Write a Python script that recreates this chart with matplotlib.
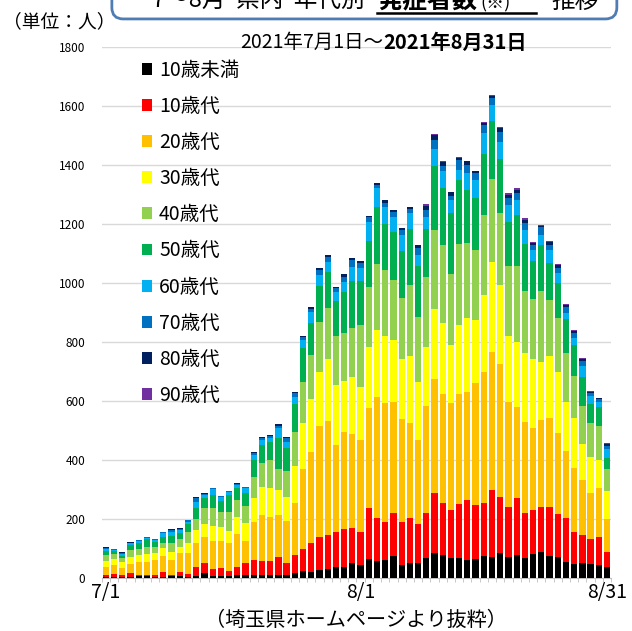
import numpy as np
import matplotlib
matplotlib.use("Agg")
import matplotlib.pyplot as plt
from matplotlib.patches import FancyBboxPatch
from matplotlib.lines import Line2D

plt.rcParams['font.family'] = ['Noto Sans CJK JP', 'DejaVu Sans']

# daily cases by age group, 2021/7/1 - 8/31
u10 = [4, 5, 5, 5, 7, 7, 5, 5, 7, 7, 5, 7, 16, 7, 7, 7, 10, 10, 10, 10, 10, 10, 10, 18, 25, 20,
       27, 29, 36, 36, 50, 44, 64, 58, 61, 75, 44, 50, 50, 67, 86, 78, 67, 69, 61, 64, 75, 72, 86,
       70, 78, 69, 81, 88, 75, 72, 54, 47, 50, 46, 44, 38]
a10 = [7, 10, 5, 12, 3, 3, 5, 16, 4, 14, 9, 31, 34, 24, 28, 18, 26, 40, 51, 48, 48, 62, 42, 60, 72, 97,
       111, 116, 119, 129, 118, 111, 172, 144, 128, 144, 145, 152, 132, 152, 203, 175, 164, 181, 203, 183, 178, 226, 187,
       172, 192, 150, 150, 154, 167, 144, 148, 110, 96, 86, 96, 51]
a20 = [27, 28, 23, 29, 45, 45, 51, 54, 50, 63, 70, 80, 90, 96, 90, 93, 113, 75, 128, 156, 150, 142, 142, 177, 272, 309,
       377, 387, 296, 331, 320, 313, 339, 410, 403, 379, 349, 325, 286, 364, 384, 371, 361, 374, 368, 413, 446, 469, 452,
       354, 311, 311, 277, 294, 299, 277, 230, 217, 186, 157, 164, 110]
a30 = [21, 21, 20, 24, 22, 26, 23, 26, 28, 22, 36, 45, 43, 49, 47, 42, 59, 60, 81, 96, 96, 84, 82, 125, 158, 181,
       184, 212, 203, 172, 194, 181, 209, 230, 228, 209, 204, 226, 198, 201, 239, 242, 198, 234, 248, 215, 260, 305, 268,
       226, 220, 234, 235, 197, 213, 204, 164, 167, 122, 122, 96, 97]
a40 = [18, 17, 14, 25, 22, 25, 22, 19, 29, 26, 37, 36, 53, 60, 53, 65, 56, 60, 71, 81, 96, 70, 87, 116, 139, 149,
       168, 170, 166, 164, 164, 209, 204, 222, 224, 203, 206, 240, 220, 235, 268, 263, 241, 273, 254, 237, 271, 279, 243,
       237, 258, 209, 203, 241, 188, 183, 168, 145, 129, 113, 115, 72]
a50 = [16, 11, 8, 16, 19, 25, 15, 20, 24, 19, 26, 39, 34, 45, 37, 56, 40, 42, 59, 60, 62, 105, 77, 94, 115, 110,
       123, 124, 118, 137, 162, 150, 154, 195, 155, 164, 159, 189, 172, 163, 215, 192, 205, 218, 181, 175, 209, 199, 183,
       149, 171, 160, 130, 155, 125, 121, 114, 104, 100, 66, 64, 38]
a60 = [6, 4, 6, 7, 9, 5, 8, 11, 15, 12, 8, 21, 11, 20, 11, 9, 11, 17, 17, 17, 14, 34, 22, 25, 26, 35,
       37, 34, 33, 36, 47, 42, 66, 62, 60, 51, 56, 54, 37, 43, 58, 57, 45, 34, 59, 62, 68, 53, 60,
       57, 51, 47, 36, 34, 45, 34, 22, 22, 36, 27, 17, 30]
a70 = [4, 1, 5, 2, 2, 2, 3, 5, 7, 4, 5, 11, 5, 4, 4, 4, 5, 5, 8, 5, 5, 8, 11, 11, 9, 11,
       17, 17, 11, 17, 23, 19, 15, 11, 13, 15, 15, 14, 23, 23, 32, 19, 14, 34, 26, 23, 29, 23, 34,
       23, 25, 23, 17, 26, 17, 17, 17, 17, 15, 9, 10, 11]
a80 = [1, 1, 1, 1, 1, 1, 1, 1, 1, 1, 1, 3, 1, 1, 1, 1, 1, 1, 3, 4, 4, 6, 6, 6, 5, 6,
       8, 6, 6, 7, 8, 7, 5, 6, 8, 8, 7, 7, 11, 14, 16, 12, 12, 8, 12, 7, 7, 8, 13,
       11, 9, 11, 8, 4, 9, 9, 9, 8, 8, 5, 3, 6]
a90 = [0, 0, 0, 0, 0, 0, 0, 0, 0, 0, 0, 0, 0, 0, 0, 0, 0, 0, 0, 0, 0, 0, 0, 0, 0, 0,
       0, 0, 0, 0, 0, 0, 0, 0, 0, 0, 0, 0, 0, 5, 5, 3, 3, 3, 3, 2, 2, 3, 4,
       5, 6, 5, 3, 4, 4, 3, 2, 4, 3, 2, 2, 4]

groups = ['10歳未満', '10歳代', '20歳代', '30歳代', '40歳代',
          '50歳代', '60歳代', '70歳代', '80歳代', '90歳代']
series = [u10, a10, a20, a30, a40, a50, a60, a70, a80, a90]
colors = ['#000000', '#FF0000', '#FFC000', '#FFFF00', '#92D050',
          '#00B050', '#00B0F0', '#0070C0', '#002060', '#7030A0']

tick_pos = [0, 31, 61]
tick_labels = ['7/1', '8/1', '8/31']

fig = plt.figure(figsize=(6.32, 6.31), dpi=100)
ax = fig.add_axes([0.161, 0.084, 0.806, 0.8415])

x = np.arange(len(u10))
bottom = np.zeros(len(u10))
for vals, name, c in zip(series, groups, colors):
    ax.bar(x, vals, bottom=bottom, width=0.76, color=c, label=name, zorder=3)
    bottom += np.array(vals)

ax.set_xlim(-0.5, len(u10) - 0.5)
ax.set_ylim(0, 1800)
ax.set_yticks(range(0, 1801, 200))
ax.tick_params(axis='y', length=0, labelsize=8.5, pad=12)
ax.grid(axis='y', color='#D9D9D9', linewidth=1, zorder=0)
ax.set_xticks(tick_pos)
ax.set_xticklabels(tick_labels, fontsize=14)
ax.set_xticks(np.arange(-0.5, len(u10), 1), minor=True)
ax.tick_params(axis='x', which='major', length=0, pad=3)
ax.tick_params(axis='x', which='minor', length=3, color='#BFBFBF')
for s in ['top', 'right', 'left']:
    ax.spines[s].set_visible(False)
ax.spines['bottom'].set_color('#BFBFBF')

ax.legend(loc='upper left', bbox_to_anchor=(0.063, 0.991), frameon=False,
          fontsize=14, handlelength=0.55, handleheight=0.55, handletextpad=0.35,
          labelspacing=0.78, borderaxespad=0)

# titles and notes
fig.text(0.607, 0.933, '2021年7月1日～', ha='right', va='center', fontsize=14)
fig.text(0.607, 0.933, '2021年8月31日', ha='left', va='center', fontsize=14.5, fontweight='bold')
fig.text(0.005, 0.965, '（単位：人）', ha='left', va='center', fontsize=13.5)
fig.text(0.563, 0.017, '（埼玉県ホームページより抜粋）', ha='center', va='center', fontsize=14.5)

# banner cut off at the top edge, as in the source image
box = FancyBboxPatch((0.177, 0.970), 0.799, 0.1, boxstyle='round,pad=0,rounding_size=0.018',
                     transform=fig.transFigure, facecolor='white', edgecolor='#4F7DB3',
                     linewidth=2, clip_on=False)
fig.patches.append(box)
fig.text(0.240, 0.998, '7～8月  県内  年代別', ha='left', va='center', fontsize=17)
fig.text(0.597, 0.998, '発症者数', ha='left', va='center', fontsize=18, fontweight='bold')
fig.text(0.760, 0.994, '(※)', ha='left', va='center', fontsize=13)
fig.text(0.873, 0.998, '推移', ha='left', va='center', fontsize=17)
fig.lines.append(Line2D([0.597, 0.848], [0.979, 0.979], transform=fig.transFigure,
                        color='black', linewidth=1.8))

fig.savefig('out.png', dpi=100)
